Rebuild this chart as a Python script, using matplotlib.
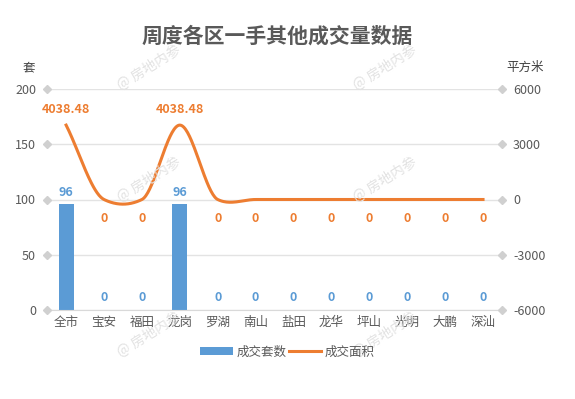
import numpy as np
import matplotlib
matplotlib.use("Agg")
import matplotlib.pyplot as plt
from matplotlib.ticker import FuncFormatter

plt.rcParams['font.family'] = ['Noto Sans CJK SC', 'DejaVu Sans']

districts = ['全市', '宝安', '福田', '龙岗', '罗湖', '南山', '盐田', '龙华', '坪山', '光明', '大鹏', '深汕']
units = [96, 0, 0, 96, 0, 0, 0, 0, 0, 0, 0, 0]
area = [4038.48, 0, 0, 4038.48, 0, 0, 0, 0, 0, 0, 0, 0]

BLUE = '#5b9bd5'
ORANGE = '#ed7d31'
GREY = '#595959'
GRID = '#e3e3e3'


def smooth(ys, s=0.5, n=40):
    # hermite curve through the points, tangents scaled down like excel's smoothed line
    ys = np.asarray(ys, float)
    m = np.zeros_like(ys)
    m[1:-1] = s * (ys[2:] - ys[:-2]) / 2
    m[0] = ys[1] - ys[0]
    m[-1] = ys[-1] - ys[-2]
    t = np.linspace(0, 1, n)
    h00 = 2 * t**3 - 3 * t**2 + 1
    h10 = t**3 - 2 * t**2 + t
    h01 = -2 * t**3 + 3 * t**2
    h11 = t**3 - t**2
    ox, oy = [], []
    for i in range(len(ys) - 1):
        ox.append(i + t)
        oy.append(h00 * ys[i] + h10 * m[i] + h01 * ys[i + 1] + h11 * m[i + 1])
    return np.concatenate(ox), np.concatenate(oy)


fig = plt.figure(figsize=(5.75, 3.99), dpi=100)
ax = fig.add_axes([0.082, 0.223, 0.791, 0.554])
ax2 = ax.twinx()

x = np.arange(len(districts))
bars = ax.bar(x, units, width=0.4, color=BLUE, zorder=2, label='成交套数')
sx, sy = smooth(area)
line, = ax2.plot(sx, sy, color=ORANGE, lw=2.2, zorder=3, label='成交面积')

ax.set_xlim(-0.5, len(districts) - 0.5)
ax.set_ylim(0, 200)
ax2.set_ylim(-6000, 6000)
ax.set_yticks([0, 50, 100, 150, 200])
ax2.set_yticks([-6000, -3000, 0, 3000, 6000])
ax2.yaxis.set_major_formatter(FuncFormatter(lambda v, p: f'{v:.0f}'))
ax.yaxis.grid(True, color=GRID, lw=1, zorder=0)
ax.set_axisbelow(True)

for a in (ax, ax2):
    for s in a.spines.values():
        s.set_visible(False)
ax.spines['bottom'].set_visible(True)
ax.spines['bottom'].set_color('#d9d9d9')

ax.set_xticks(x)
ax.set_xticklabels(districts)
ax.tick_params(axis='x', length=0, pad=4, labelsize=9, labelcolor=GREY)
ax.tick_params(axis='y', length=0, pad=8, labelsize=9, labelcolor=GREY)
ax2.tick_params(axis='y', length=0, pad=8, labelsize=9, labelcolor=GREY)

# diamond markers at the axis ends
for v in [0, 50, 100, 150, 200]:
    ax.plot(-0.5, v, marker='D', ms=4, color='#d0d0d0', clip_on=False, zorder=4)
for v in [-6000, -3000, 0, 3000, 6000]:
    ax2.plot(len(districts) - 0.5, v, marker='D', ms=4, color='#d0d0d0', clip_on=False, zorder=4)

for xi, u in zip(x, units):
    yy = u + 4 if u > 0 else 5
    ax.text(xi, yy, f'{u:g}', ha='center', va='bottom', color=BLUE, fontsize=9, fontweight='bold')
for xi, a in zip(x, area):
    if a > 0:
        ax2.text(xi, a + 500, f'{a:.2f}', ha='center', va='bottom', color=ORANGE, fontsize=9, fontweight='bold')
    else:
        ax2.text(xi, a - 700, f'{a:g}', ha='center', va='top', color=ORANGE, fontsize=9, fontweight='bold')

fig.text(0.482, 0.91, '周度各区一手其他成交量数据', ha='center', va='center',
         fontsize=15, fontweight='bold', color=GREY)
fig.text(0.05, 0.83, '套', ha='center', va='center', fontsize=9, color='#404040')
fig.text(0.913, 0.83, '平方米', ha='center', va='center', fontsize=9, color='#404040')

fig.legend(handles=[bars, line], loc='center', bbox_to_anchor=(0.5, 0.118), ncol=2,
           frameon=False, fontsize=9, labelcolor=GREY, handlelength=2.6,
           handletextpad=0.3, columnspacing=0.2)

# faint watermarks
for wx, wy in [(0.26, 0.83), (0.67, 0.83), (0.26, 0.55), (0.67, 0.55), (0.26, 0.16), (0.67, 0.16)]:
    fig.text(wx, wy, '@ 房地内参', rotation=32, ha='center', va='center',
             fontsize=10, color='#e2e2e2', zorder=0)

fig.savefig('out.png', dpi=100)
